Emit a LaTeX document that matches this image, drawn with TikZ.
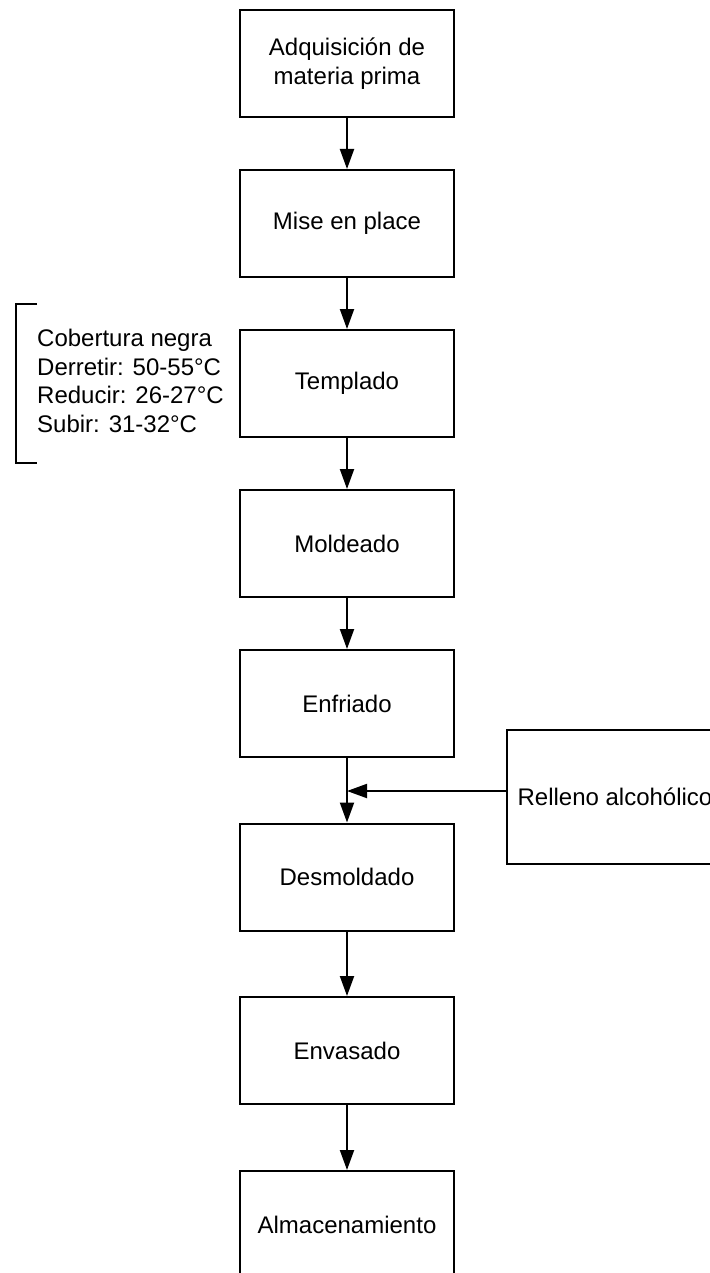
\documentclass[tikz,border=0pt]{standalone}
\usepackage{fontspec}
\setmainfont{Liberation Sans}
\usetikzlibrary{arrows.meta}
\begin{document}
\begin{tikzpicture}[x=1pt,y=-1pt,
  box/.style={draw, line width=2pt, minimum width=214pt, minimum height=107pt,
    inner sep=0pt, align=center, font=\fontsize{24}{28.5}\selectfont},
  arr/.style={line width=2pt, -{Triangle[length=20pt,width=14pt]}},
  bracketline/.style={line width=2pt}]
\useasboundingbox (0,0) rectangle (709,1273);
\fill[white] (0,0) rectangle (709,1273);
\node[box] (b1) at (347,63.5) {Adquisición de\\materia prima};
\node[box] (b2) at (347,223.5) {Mise en place};
\node[box] (b3) at (347,383.5) {Templado};
\node[box] (b4) at (347,543.5) {Moldeado};
\node[box] (b5) at (347,703.5) {Enfriado};
\node[box] (b6) at (347,877) {Desmoldado};
\node[box] (b7) at (347,1050.5) {Envasado};
\node[box] (b8) at (347,1224.5) {Almacenamiento};
\node[box, minimum width=216pt, minimum height=134pt] (rel) at (615,797) {Relleno alcohólico};
\coordinate (j) at (347,791);
\draw[arr] (b1) -- (b2);
\draw[arr] (b2) -- (b3);
\draw[arr] (b3) -- (b4);
\draw[arr] (b4) -- (b5);
\draw[arr] (b5) -- (b6);
\draw[arr] (b6) -- (b7);
\draw[arr] (b7) -- (b8);
\draw[arr] (rel.west |- j) -- (j);
\node[anchor=west, align=left, inner sep=0pt, font=\fontsize{24}{28.5}\selectfont] (note) at (37,381)
  {Cobertura negra\\Derretir: 50-55°C\\Reducir: 26-27°C\\Subir: 31-32°C};
\draw[bracketline] (37,304) -- (16,304) -- (16,463) -- (37,463);
\end{tikzpicture}
\end{document}
